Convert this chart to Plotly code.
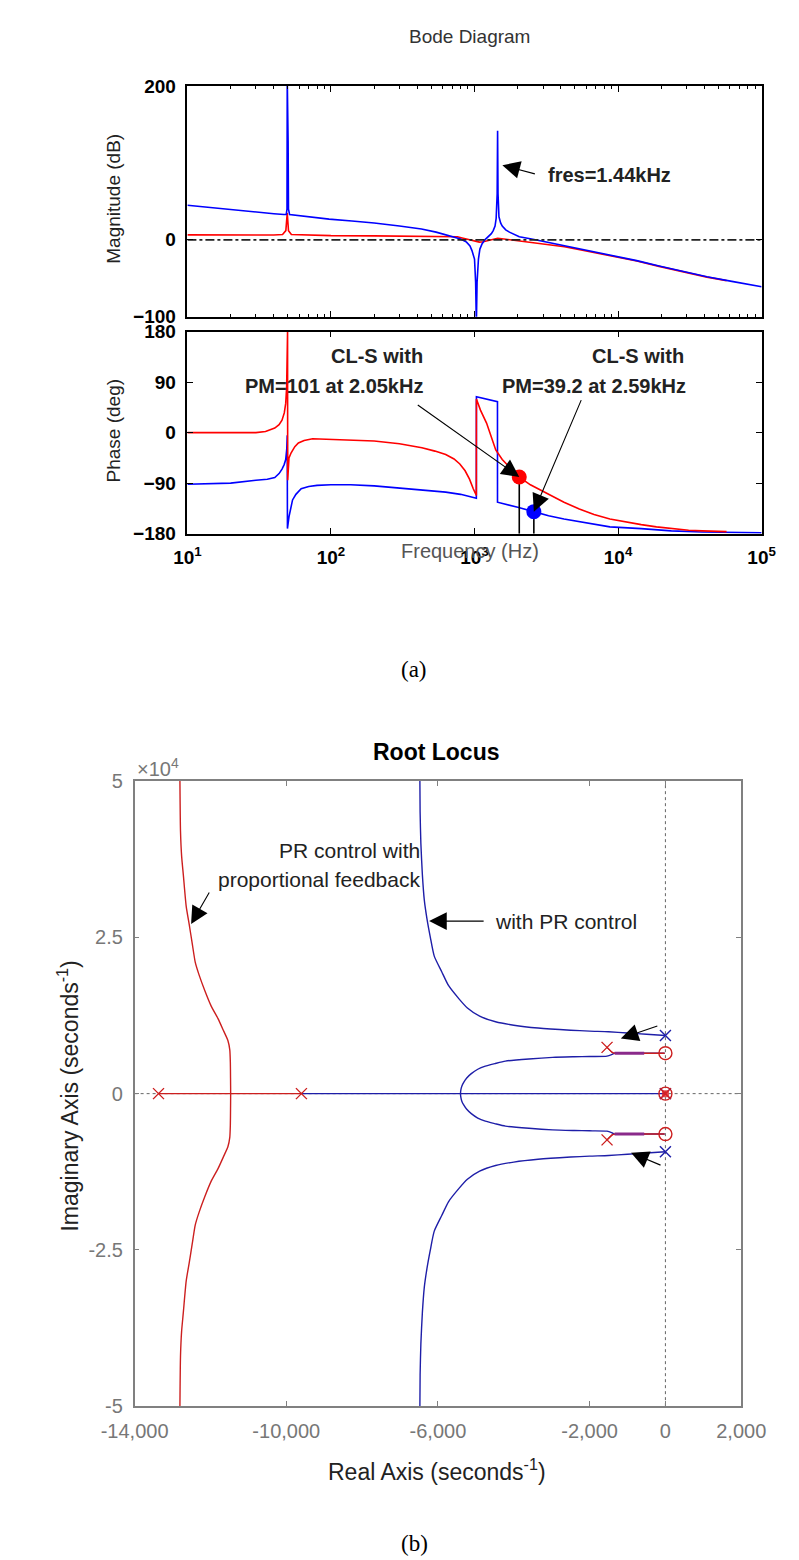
import math
import plotly.graph_objects as go

W, H = 799, 1560

# ---------------- Bode: magnitude (Hz, dB) ----------------
mag_red_f = [10, 20, 30, 40, 46, 48.5, 49.6, 50.6, 53, 70, 100, 200, 300, 450, 600, 700, 760, 820, 880,
             940, 1000, 1080, 1150, 1250, 1350, 1450, 1550, 1700, 1950, 2200, 2600, 3000, 3600, 4230,
             6000, 8990, 13500, 19300, 28000, 41600, 57000]
mag_red_db = [6.4, 6.2, 6, 6.2, 7, 12, 35, 12, 7, 6, 5.5, 5.2, 5, 5, 5, 4.6, 4, 2.5, 1,
              -0.5, -2, -3, -2.5, -1, 0.5, 2, 1.5, 0.5, -1, -2, -3.8, -5.5, -7.2, -9,
              -14.5, -20.5, -27.5, -34.5, -41.5, -48.5, -53]

mag_blue_f = [10, 16, 26, 40, 47, 48.8, 49.4, 49.6, 50.3, 50.6, 51.5, 70, 97, 140, 200, 300, 427, 540,
              676, 800, 880, 930, 960, 1000, 1018, 1030, 1042, 1065, 1090, 1130, 1180, 1250, 1310,
              1350, 1390, 1415, 1438, 1448, 1458, 1480, 1520, 1560, 1650, 1750, 1900, 2050, 2500,
              3000, 4230, 6000, 8990, 13500, 19300, 28000, 41600, 62000, 100000]
mag_blue_db = [45, 41, 37, 34, 33, 33, 40, 210, 128, 40, 33, 30, 27, 24.5, 22, 18, 14, 10,
               5, 1, -3, -8, -14, -25, -55, -110, -55, -25, -12, -5, 0, 4, 8,
               12, 18, 28, 60, 142, 60, 30, 22, 18, 13, 10, 7, 4, 1,
               -2, -8, -14, -20, -27, -34, -41, -48, -54, -61]

zero_line_f = [10, 100000]
zero_line_db = [0, 0]

# ---------------- Bode: phase (Hz, deg) ----------------
ph_red_f = [10, 20, 30, 35, 40.6, 43.5, 45.6, 47.3, 48.4, 49.1, 49.5, 49.85, 49.95, 50.3, 51, 52.8, 56,
            59.3, 65, 74.5, 100, 150, 200, 300, 430, 530, 630, 720, 790, 860, 923, 980, 1030,
            1031, 1100, 1213, 1300, 1406, 1560, 1750, 2042, 2450, 3280, 4200, 5370, 6800, 8770,
            11500, 14500, 18500, 23500, 31000, 38600, 57000]
ph_red_deg = [0, 0, 0, 2, 8, 14, 22, 35, 52, 80, 120, 179, -85, -60, -45, -36, -25,
              -18.5, -14, -11, -12, -13.5, -15, -20, -27, -33, -39, -47, -56, -68, -83, -100, -112,
              60, 40, 17, -5, -31, -48, -62, -79, -93, -110, -124, -136, -146, -154,
              -160, -164, -168, -171, -174, -175, -176.5]

ph_blue_f = [10, 20, 30, 36, 40.6, 43.5, 45.6, 47.2, 48.4, 49.2, 49.6, 49.75, 51, 52.5, 54, 57, 62,
             70, 80, 100, 137, 200, 294, 420, 630, 800, 1030, 1031, 1445, 1446, 1700, 2000, 2590,
             3280, 4200, 5370, 6800, 8770, 14500, 20000, 23500, 38600, 60000, 100000]
ph_blue_deg = [-92, -90, -85, -83, -80, -73, -65, -57, -48, -30, -5, -171, -150, -135, -120, -110, -100,
               -96, -94, -93, -93, -95, -99, -102, -106, -110, -117, 64, 55, -124, -128, -133, -140.8,
               -148, -154, -159, -164, -168, -171, -174, -175, -177, -178, -178.5]

pm_f = [2050, 2590]
pm_deg = [-79, -140.8]
phase_floor = -180

mag_ticks = [-100, 0, 200]
phase_ticks = [-180, -90, 0, 90, 180]
freq_ticks = [10, 100, 1000, 10000, 100000]
freq_ticktext = ["10<sup>1</sup>", "10<sup>2</sup>", "10<sup>3</sup>", "10<sup>4</sup>", "10<sup>5</sup>"]

# ---------------- Root locus (upper halves; loci are conjugate-symmetric) ----------------
rl_red_outer_re = [-11467, -11470, -11475, -11490, -11540, -11650, -11800, -11980, -12150, -12300,
                   -12400, -12480, -12558, -12640, -12715, -12760, -12790, -12805]
rl_red_outer_im = [0, 2500, 5000, 7000, 8500, 10000, 12000, 14000, 16500, 19000,
                   21000, 24000, 27000, 30000, 35000, 38000, 42000, 50000]

rl_red_real_re = [-13370, -9600]
rl_blue_real_re = [-9600, 0]

rl_blue_outer_re = [0, -500, -1000, -1500, -2000, -2500, -3359, -4000, -4480, -4900, -5223, -5450,
                    -5722, -5900, -6097, -6200, -6290, -6360, -6410, -6450, -6470, -6476]
rl_blue_outer_im = [9300, 9500, 9700, 9900, 10000, 10150, 10500, 10950, 11500, 12400, 13700, 15200,
                    17300, 19500, 22000, 25000, 28000, 31000, 35000, 40000, 45000, 50000]

rl_blue_inner_re = [-5404, -5395, -5370, -5320, -5240, -5120, -4950, -4750, -4500, -4220, -3600, -2976,
                    -2400, -2000, -1540, -1400, -1340, -560, -20]
rl_blue_inner_im = [0, 600, 1200, 1800, 2500, 3200, 3900, 4400, 4800, 5200, 5550, 5800,
                    5900, 5950, 6000, 6300, 6470, 6470, 6470]

rl_red_inner_re = [-1540, -1400, -1340, -560, -20]
rl_red_inner_im = [7400, 6600, 6470, 6470, 6470]

rl_overlap_re = [-1340, -560]
rl_overlap_im = [6470, 6470]

rl_red_pole_re = [-13370, -9600, -1540, -1540, 0]
rl_red_pole_im = [0, 0, 7400, -7400, 0]
rl_red_zero_re = [0, 0, 0]
rl_red_zero_im = [6470, -6470, 0]
rl_blue_pole_re = [0, 0, 0]
rl_blue_pole_im = [9300, -9300, 0]

rl_x_ticks = [-14000, -10000, -6000, -2000, 0, 2000]
rl_x_ticktext = ["-14,000", "-10,000", "-6,000", "-2,000", "0", "2,000"]
rl_y_ticks = [-50000, -25000, 0, 25000, 50000]
rl_y_ticktext = ["-5", "-2.5", "0", "2.5", "5"]

# ---------------- figure ----------------
FONT = "Liberation Sans, Arial, sans-serif"
BLUE = "#0000FF"
RED = "#FF0000"
RLRED = "#CC1F1F"
RLBLUE = "#1E1EA8"
GRAY = "#808080"

def px(x):
    return x / W

def py(y):
    return 1 - y / H

def mirror(v):
    return [-a for a in v]

def through_axis(re, im):
    """Join the conjugate lower half and the upper half into one continuous branch."""
    return list(reversed(re))[:-1] + re, list(reversed(mirror(im)))[:-1] + im

fig = go.Figure()

# magnitude
fig.add_trace(go.Scatter(x=mag_red_f, y=mag_red_db, mode="lines", line=dict(color=RED, width=1.6),
                         xaxis="x", yaxis="y"))
fig.add_trace(go.Scatter(x=mag_blue_f, y=mag_blue_db, mode="lines", line=dict(color=BLUE, width=1.6),
                         xaxis="x", yaxis="y"))
fig.add_trace(go.Scatter(x=zero_line_f, y=zero_line_db, mode="lines",
                         line=dict(color="#222222", width=1.6, dash="dashdot"), xaxis="x", yaxis="y"))

# phase
fig.add_trace(go.Scatter(x=ph_blue_f, y=ph_blue_deg, mode="lines", line=dict(color=BLUE, width=1.6),
                         xaxis="x2", yaxis="y2"))
fig.add_trace(go.Scatter(x=ph_red_f, y=ph_red_deg, mode="lines", line=dict(color=RED, width=1.6),
                         xaxis="x2", yaxis="y2"))
for f, d in zip(pm_f, pm_deg):
    fig.add_trace(go.Scatter(x=[f, f], y=[d, phase_floor], mode="lines", line=dict(color="black", width=1.6),
                             xaxis="x2", yaxis="y2"))
fig.add_trace(go.Scatter(x=pm_f[:1], y=pm_deg[:1], mode="markers", marker=dict(color=RED, size=15),
                         xaxis="x2", yaxis="y2"))
fig.add_trace(go.Scatter(x=pm_f[1:], y=pm_deg[1:], mode="markers", marker=dict(color=BLUE, size=15),
                         xaxis="x2", yaxis="y2"))

# root locus: reference dotted axes
fig.add_trace(go.Scatter(x=[0, 0], y=[rl_y_ticks[0], rl_y_ticks[-1]], mode="lines",
                         line=dict(color="#666666", width=1, dash="dot"), xaxis="x3", yaxis="y3"))
fig.add_trace(go.Scatter(x=[rl_x_ticks[0], rl_x_ticks[-1]], y=[0, 0], mode="lines",
                         line=dict(color="#666666", width=1, dash="dot"), xaxis="x3", yaxis="y3"))

def rl_line(re, im, color, width=1.4, smooth=True):
    line = dict(color=color, width=width)
    if smooth:
        line.update(shape="spline", smoothing=0.6)
    fig.add_trace(go.Scatter(x=re, y=im, mode="lines", line=line, xaxis="x3", yaxis="y3"))

rl_line(rl_blue_real_re, [0, 0], RLBLUE, smooth=False)
rl_line(rl_red_real_re, [0, 0], RLRED, smooth=False)
rl_line(*through_axis(rl_red_outer_re, rl_red_outer_im), RLRED)
rl_line(*through_axis(rl_blue_inner_re, rl_blue_inner_im), RLBLUE)
for sgn in (1, -1):
    rl_line(rl_blue_outer_re, rl_blue_outer_im if sgn > 0 else mirror(rl_blue_outer_im), RLBLUE)
    rl_line(rl_red_inner_re, rl_red_inner_im if sgn > 0 else mirror(rl_red_inner_im), RLRED)
    rl_line(rl_overlap_re, rl_overlap_im if sgn > 0 else mirror(rl_overlap_im), "#8A2A8A", 3, smooth=False)

fig.add_trace(go.Scatter(x=rl_red_zero_re, y=rl_red_zero_im, mode="markers",
                         marker=dict(symbol="circle-open", size=13, color=RLRED, line=dict(width=1.4)),
                         xaxis="x3", yaxis="y3"))
fig.add_trace(go.Scatter(x=rl_blue_pole_re, y=rl_blue_pole_im, mode="markers",
                         marker=dict(symbol="x-thin", size=11, color=RLBLUE, line=dict(width=1.4, color=RLBLUE)),
                         xaxis="x3", yaxis="y3"))
fig.add_trace(go.Scatter(x=rl_red_pole_re, y=rl_red_pole_im, mode="markers",
                         marker=dict(symbol="x-thin", size=11, color=RLRED, line=dict(width=1.4, color=RLRED)),
                         xaxis="x3", yaxis="y3"))
fig.add_trace(go.Scatter(x=[0], y=[0], mode="markers",
                         marker=dict(symbol="square", size=7, color="#E02020", opacity=0.8),
                         xaxis="x3", yaxis="y3"))

# ---------------- axes ----------------
tickfont_b = dict(family=FONT, size=19, color="black", weight="bold")
tickfont_g = dict(family=FONT, size=20, color="#777777")
minor_vals = [m * 10 ** e for e in range(1, 5) for m in range(2, 10)]

bode_x = dict(type="log", range=[1, 5], domain=[px(157), px(777)], showline=True, mirror="ticks",
              linecolor="black", linewidth=1.5, ticks="inside", ticklen=6, tickcolor="black",
              tickvals=freq_ticks, showgrid=False, zeroline=False)

fig.update_layout(
    width=W, height=H, paper_bgcolor="white", plot_bgcolor="white", showlegend=False,
    margin=dict(l=0, r=0, t=0, b=0),
    xaxis=dict(**bode_x, anchor="y", showticklabels=False,
               minor=dict(tickmode="array", tickvals=minor_vals, ticks="inside", ticklen=3,
                          tickcolor="black", showgrid=False)),
    yaxis=dict(domain=[py(302), py(68)], range=[-100, 200], tickvals=mag_ticks, showline=True,
               mirror="ticks", linecolor="black", linewidth=1.5, ticks="inside", ticklen=6,
               tickcolor="black", tickfont=tickfont_b, showgrid=False, zeroline=False,
               ticklabelstandoff=6, anchor="x"),
    xaxis2=dict(**bode_x, anchor="y2", ticktext=freq_ticktext, tickfont=tickfont_b,
                ticklabelstandoff=6),
    yaxis2=dict(domain=[py(522), py(317)], range=[-180, 180], tickvals=phase_ticks, showline=True,
                mirror="ticks", linecolor="black", linewidth=1.5, ticks="inside", ticklen=6,
                tickcolor="black", tickfont=tickfont_b, showgrid=False, zeroline=False,
                ticklabelstandoff=6, anchor="x2"),
    xaxis3=dict(domain=[px(100), px(755)], range=[-14000, 2000], tickvals=rl_x_ticks, ticktext=rl_x_ticktext,
                showline=True, mirror="ticks", linecolor=GRAY, linewidth=1.5, ticks="inside", ticklen=5,
                tickcolor=GRAY, tickfont=tickfont_g, showgrid=False, zeroline=False, anchor="y3",
                ticklabelstandoff=6),
    yaxis3=dict(domain=[py(1407), py(773)], range=[-50000, 50000], tickvals=rl_y_ticks,
                ticktext=rl_y_ticktext, showline=True, mirror="ticks", linecolor=GRAY, linewidth=1.5,
                ticks="inside", ticklen=5, tickcolor=GRAY, tickfont=tickfont_g, showgrid=False,
                zeroline=False, anchor="x3", ticklabelstandoff=6),
)

ann = []

def text(x, y, s, size=20, color="black", bold=False, xanchor="center", angle=0, family=FONT):
    ann.append(dict(x=px(x), y=py(y), xref="paper", yref="paper", text=s, showarrow=False,
                    xanchor=xanchor, yanchor="middle", textangle=angle,
                    font=dict(family=family, size=size, color=color, weight="bold" if bold else "normal")))

# Bode texts
text(462, 18, "Bode Diagram", size=19, color="#333333")
text(77, 182, "Magnitude (dB)", size=19, color="#222222", angle=-90)
text(77, 417, "Phase (deg)", size=19, color="#222222", angle=-90)
text(462, 540, "Frequency (Hz)", size=20, color="#555555")
text(544, 158, "fres=1.44kHz", size=20, color="#222222", bold=True, xanchor="left")
text(413, 342, "CL-S with", size=20, color="#222222", bold=True, xanchor="right")
text(414, 372, "PM=101 at 2.05kHz", size=20, color="#222222", bold=True, xanchor="right")
text(695, 342, "CL-S with", size=20, color="#222222", bold=True, xanchor="right")
text(697, 372, "PM=39.2 at 2.59kHz", size=20, color="#222222", bold=True, xanchor="right")
text(402, 660, "(a)", size=23, color="black", family="Liberation Serif, Times New Roman, serif")

# Root locus texts
text(426, 743, "Root Locus", size=23, color="black", bold=True)
text(100, 759, "\u00d710<sup>4</sup>", size=20, color="#777777", xanchor="left")
text(410, 843, "PR control with", size=21, color="#222222", xanchor="right")
text(410, 873, "proportional feedback", size=21, color="#222222", xanchor="right")
text(487, 915, "with PR control", size=21, color="#222222", xanchor="left")
text(28, 1092, "Imaginary Axis (seconds<sup>-1</sup>)", size=23, color="#222222", angle=-90)
text(427, 1472, "Real Axis (seconds<sup>-1</sup>)", size=23, color="#222222")
text(402, 1546, "(b)", size=23, color="black", family="Liberation Serif, Times New Roman, serif")

def arrow(x, y, xref, yref, ax, ay, size=3.2):
    ann.append(dict(x=x, y=y, xref=xref, yref=yref, ax=ax, ay=ay, axref="pixel", ayref="pixel",
                    showarrow=True, arrowhead=2, arrowsize=size, arrowwidth=1.1, arrowcolor="black",
                    text=""))

# Bode arrows (log axes use log10 coordinates)
arrow(math.log10(1563), 97, "x", "y", 34, 9)
arrow(math.log10(pm_f[0]), pm_deg[0], "x2", "y2", -103, -73)
arrow(math.log10(pm_f[1]), pm_deg[1], "x2", "y2", 48, -113)

# Root locus arrows
arrow(-12510, 27130, "x3", "y3", 19, -33)
arrow(-6232, 27600, "x3", "y3", 56, 0)
arrow(-1176, 8830, "x3", "y3", 38, -13)
arrow(-907, -9460, "x3", "y3", 31, 13)

fig.update_layout(annotations=ann)
fig.write_html("out.html")
